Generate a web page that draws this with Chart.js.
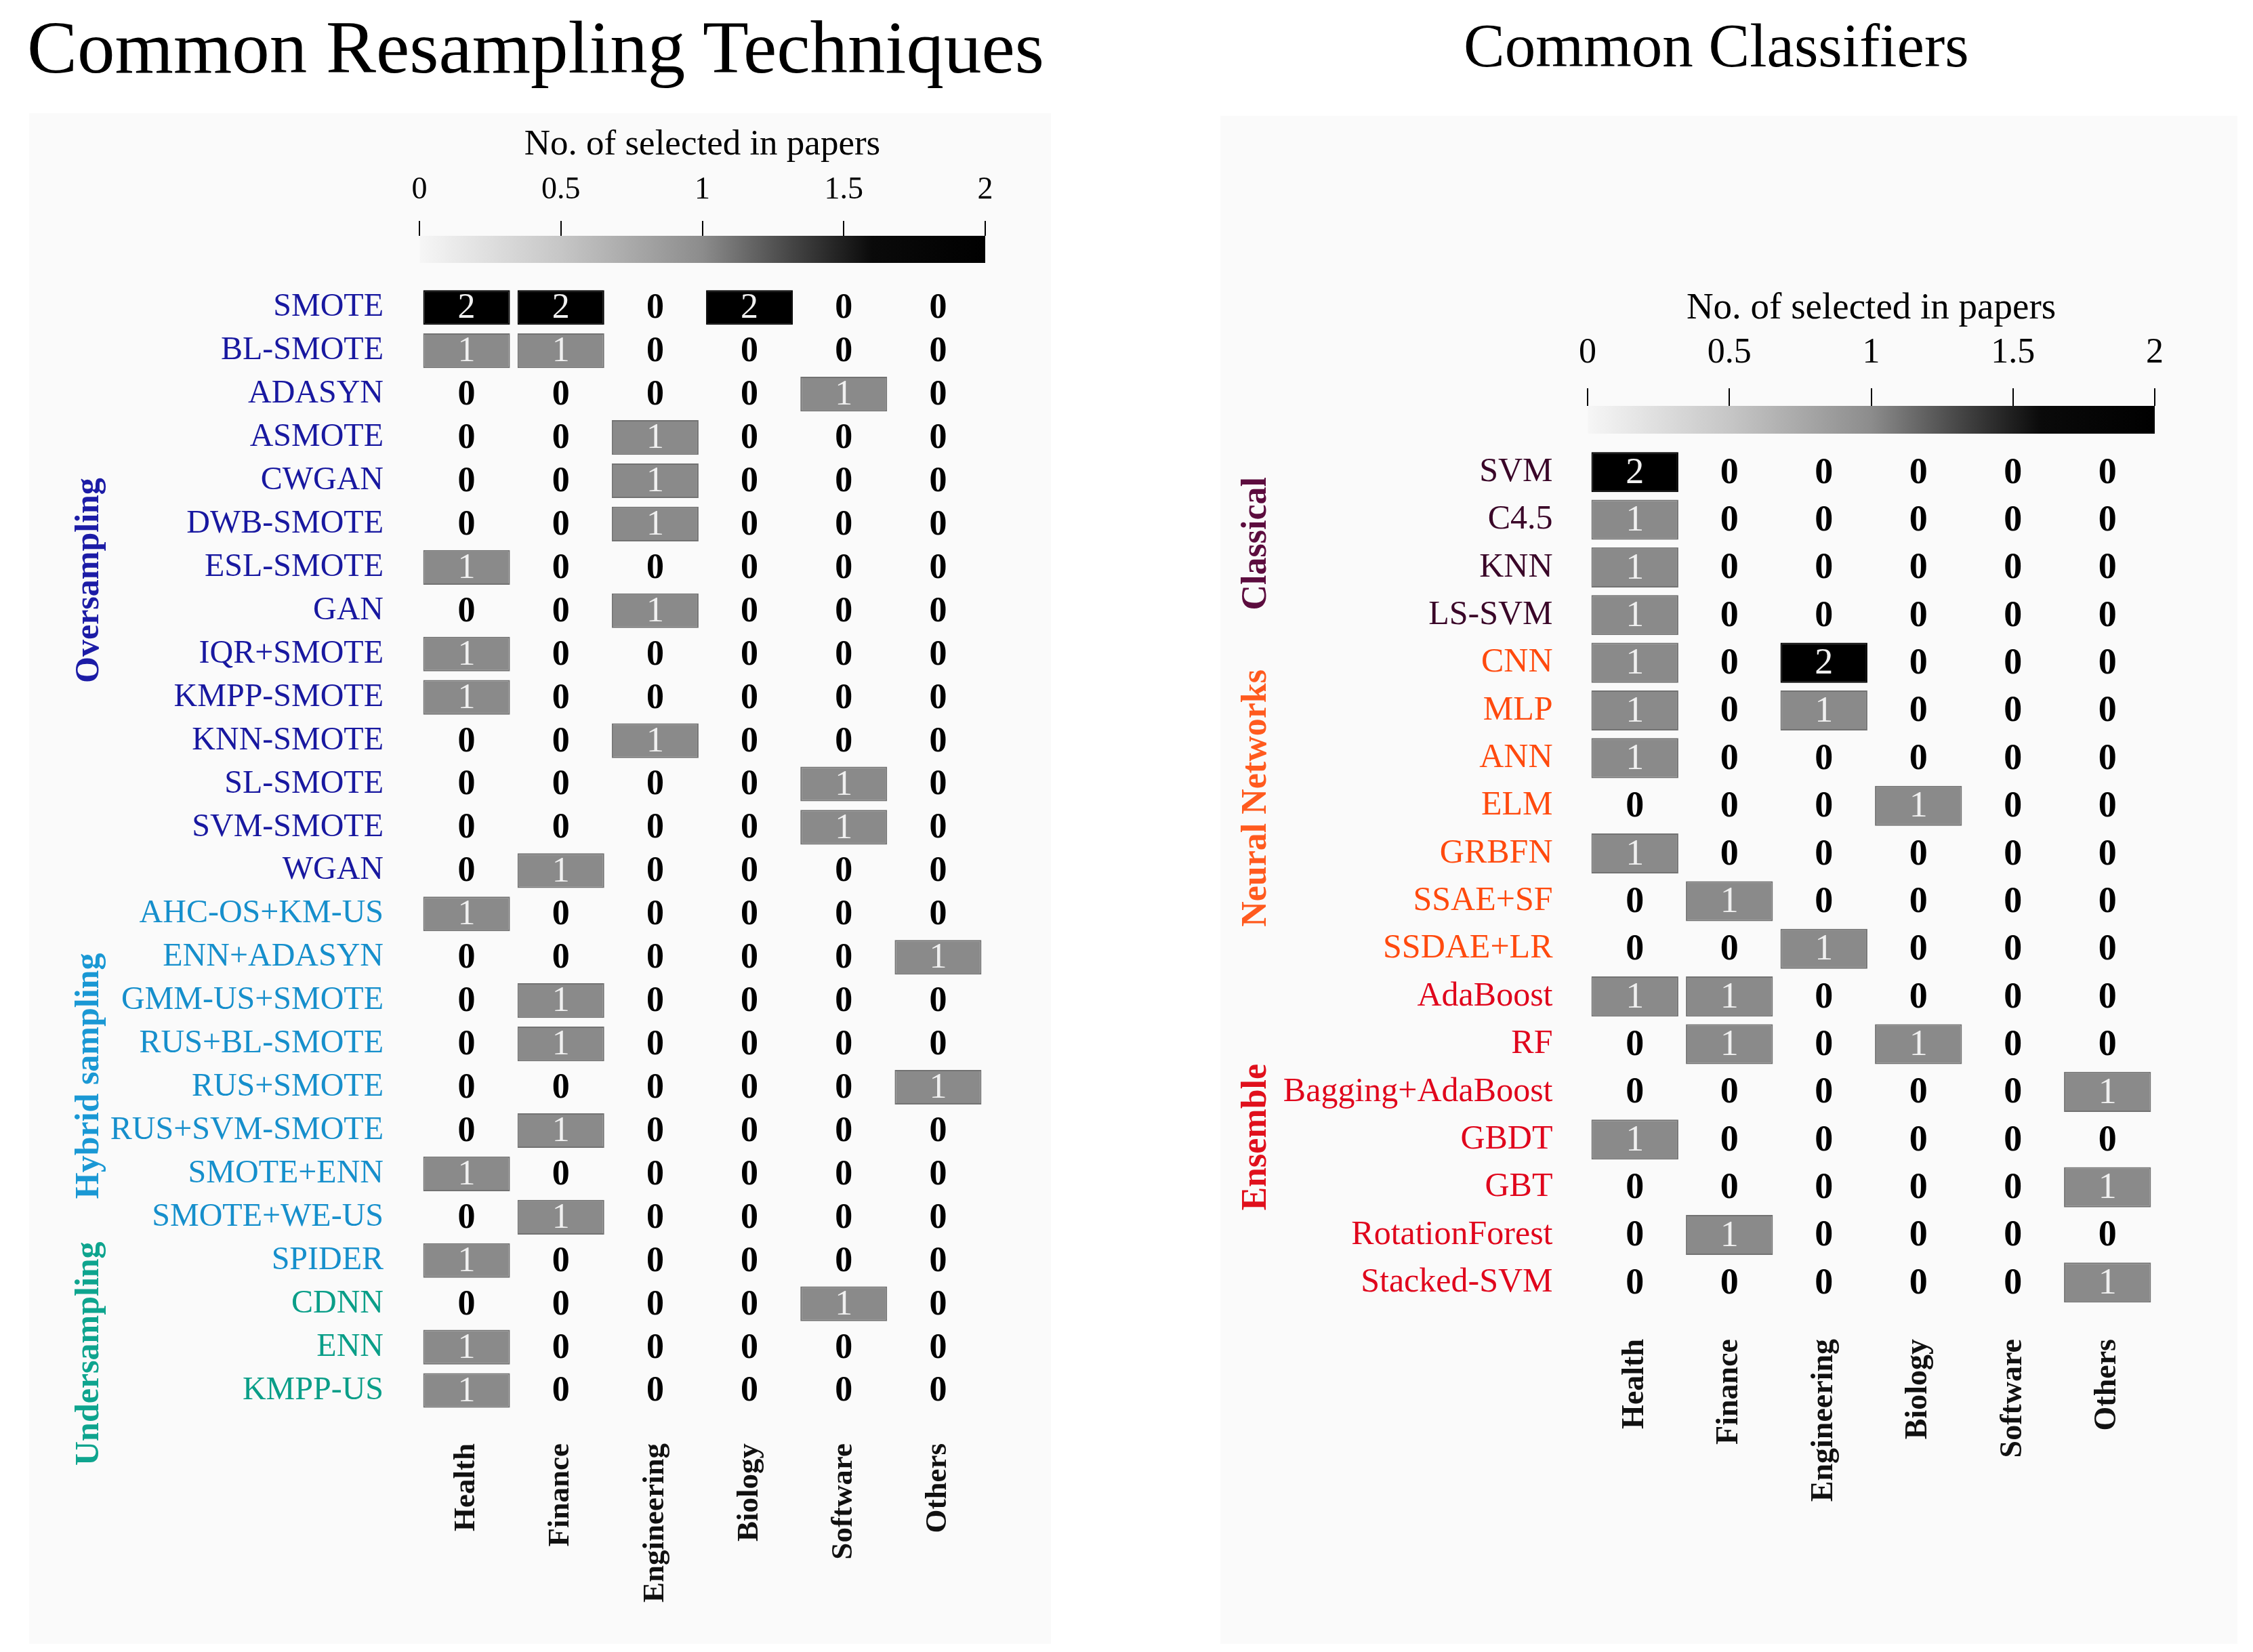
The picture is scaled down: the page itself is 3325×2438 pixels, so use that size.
<!DOCTYPE html>
<html><head><meta charset="utf-8">
<script src="https://cdn.jsdelivr.net/npm/chart.js@4.4.1/dist/chart.umd.min.js"></script>
<style>
html,body{margin:0;padding:0;background:#fff;}
body{width:3325px;height:2438px;position:relative;overflow:hidden;font-family:'Liberation Serif',serif;}
.panel{position:absolute;background:#fafafa;}
.title{position:absolute;font-family:'Liberation Serif',serif;color:#000;white-space:nowrap;line-height:1;}
canvas{position:absolute;}
</style></head><body>
<div class="panel" style="left:43px;top:167px;width:1508px;height:2259px"></div>
<div class="panel" style="left:1801px;top:171px;width:1501px;height:2255px"></div>
<div class="title" style="left:40px;top:14px;font-size:111px">Common Resampling Techniques</div>
<div class="title" style="left:2160px;top:22px;font-size:91px">Common Classifiers</div>
<canvas id="resBar" width="1511" height="218" style="left:43px;top:170px"></canvas>
<canvas id="resHeat" width="1511" height="2044" style="left:43px;top:340px"></canvas>
<canvas id="clfBar" width="1501" height="220" style="left:1801px;top:420px"></canvas>
<canvas id="clfHeat" width="1501" height="1648" style="left:1801px;top:580px"></canvas>
<script>
// ---------- data ----------
const domains = ['Health', 'Finance', 'Engineering', 'Biology', 'Software', 'Others'];
const cbTicks = [0, 0.5, 1, 1.5, 2];
const cbTitle = 'No. of selected in papers';

const resMethods = ['SMOTE','BL-SMOTE','ADASYN','ASMOTE','CWGAN','DWB-SMOTE','ESL-SMOTE','GAN','IQR+SMOTE','KMPP-SMOTE','KNN-SMOTE','SL-SMOTE','SVM-SMOTE','WGAN','AHC-OS+KM-US','ENN+ADASYN','GMM-US+SMOTE','RUS+BL-SMOTE','RUS+SMOTE','RUS+SVM-SMOTE','SMOTE+ENN','SMOTE+WE-US','SPIDER','CDNN','ENN','KMPP-US'];
const resHealth      = [2,1,0,0,0,0,1,0,1,1,0,0,0,0,1,0,0,0,0,0,1,0,1,0,1,1];
const resFinance     = [2,1,0,0,0,0,0,0,0,0,0,0,0,1,0,0,1,1,0,1,0,1,0,0,0,0];
const resEngineering = [0,0,0,1,1,1,0,1,0,0,1,0,0,0,0,0,0,0,0,0,0,0,0,0,0,0];
const resBiology     = [2,0,0,0,0,0,0,0,0,0,0,0,0,0,0,0,0,0,0,0,0,0,0,0,0,0];
const resSoftware    = [0,0,1,0,0,0,0,0,0,0,0,1,1,0,0,0,0,0,0,0,0,0,0,1,0,0];
const resOthers      = [0,0,0,0,0,0,0,0,0,0,0,0,0,0,0,1,0,0,1,0,0,0,0,0,0,0];
const resGroupNames  = ['Oversampling', 'Hybrid sampling', 'Undersampling'];
const resGroupLast   = [13, 22, 25];          // last row index of each label colour group
const resGroupCenter = [6.3, 17.74, 24.15];   // row position of the rotated group label
const resGroupColors = ['#1c1ca6', '#1a98d4', '#0ea48e'];
const resLabelColors = ['#1818a0', '#168fcc', '#0a9e88'];

const clfMethods = ['SVM','C4.5','KNN','LS-SVM','CNN','MLP','ANN','ELM','GRBFN','SSAE+SF','SSDAE+LR','AdaBoost','RF','Bagging+AdaBoost','GBDT','GBT','RotationForest','Stacked-SVM'];
const clfHealth      = [2,1,1,1,1,1,1,0,1,0,0,1,0,0,1,0,0,0];
const clfFinance     = [0,0,0,0,0,0,0,0,0,1,0,1,1,0,0,0,1,0];
const clfEngineering = [0,0,0,0,2,1,0,0,0,0,1,0,0,0,0,0,0,0];
const clfBiology     = [0,0,0,0,0,0,0,1,0,0,0,0,1,0,0,0,0,0];
const clfSoftware    = [0,0,0,0,0,0,0,0,0,0,0,0,0,0,0,0,0,0];
const clfOthers      = [0,0,0,0,0,0,0,0,0,0,0,0,0,1,0,1,0,1];
const clfGroupNames  = ['Classical', 'Neural Networks', 'Ensemble'];
const clfGroupLast   = [3, 10, 17];
const clfGroupCenter = [1.5, 6.84, 13.95];
const clfGroupColors = ['#5c0c3e', '#ff5a1e', '#e0101c'];
const clfLabelColors = ['#3a0628', '#ff4a0e', '#e0061c'];

// ---------- helpers ----------
const SERIF = "'Liberation Serif', 'Times New Roman', serif";
function fillFor(v) { return v >= 2 ? '#000000' : (v >= 1 ? '#8a8a8a' : 'rgba(0,0,0,0)'); }
function edgeFor(v) { return v >= 2 ? '#000000' : (v >= 1 ? '#727272' : 'rgba(0,0,0,0)'); }
function groupIndex(i, lasts) { for (let g = 0; g < lasts.length; g++) if (i <= lasts[g]) return g; return lasts.length - 1; }

const cellText = {
  id: 'cellText',
  afterDatasetsDraw(chart, args, opts) {
    const ctx = chart.ctx;
    chart.data.datasets.forEach((ds, i) => {
      chart.getDatasetMeta(i).data.forEach((el, j) => {
        const v = ds.values[j];
        const p = el.getCenterPoint();
        ctx.save();
        ctx.font = (v === 0 ? 'bold ' : '') + opts.size + 'px ' + SERIF;
        ctx.fillStyle = v === 0 ? '#000' : '#f0f0f0';
        ctx.textAlign = 'center';
        ctx.textBaseline = 'middle';
        ctx.fillText(String(v), p.x, p.y + 2);
        ctx.restore();
      });
    });
  }
};

const groupLabels = {
  id: 'groupLabels',
  afterDraw(chart, args, opts) {
    const ctx = chart.ctx, ys = chart.scales.y;
    const x = chart.chartArea.left - opts.dx;
    opts.names.forEach((name, g) => {
      const y = ys.getPixelForValue(opts.centers[g]);
      ctx.save();
      ctx.translate(x, y);
      ctx.rotate(-Math.PI / 2);
      ctx.font = 'bold ' + opts.size + 'px ' + SERIF;
      ctx.fillStyle = opts.colors[g];
      ctx.textAlign = 'center';
      ctx.textBaseline = 'middle';
      ctx.fillText(name, 0, 0);
      ctx.restore();
    });
  }
};

function colorbarChart(id, o) {
  return new Chart(document.getElementById(id), {
    type: 'bar',
    data: {
      labels: ['scale'],
      datasets: [{
        data: [[cbTicks[0], cbTicks[cbTicks.length - 1]]],
        backgroundColor: (c) => {
          const a = c.chart.chartArea;
          if (!a) return '#888';
          const g = c.chart.ctx.createLinearGradient(a.left, 0, a.right, 0);
          g.addColorStop(0, '#f6f6f6');
          g.addColorStop(0.25, '#c6c6c6');
          g.addColorStop(0.5, '#8c8c8c');
          g.addColorStop(0.66, '#444444');
          g.addColorStop(0.8, '#0a0a0a');
          g.addColorStop(1, '#000000');
          return g;
        },
        barPercentage: 1, categoryPercentage: 1, borderWidth: 0, borderSkipped: false
      }]
    },
    options: {
      indexAxis: 'y', responsive: false, animation: false, devicePixelRatio: 1,
      layout: { padding: { left: o.padL, right: o.padR, top: 0, bottom: 0 } },
      plugins: { legend: { display: false }, tooltip: { enabled: false } },
      scales: {
        y: { display: false },
        x: {
          position: 'top', min: cbTicks[0], max: cbTicks[cbTicks.length - 1],
          afterBuildTicks: s => { s.ticks = cbTicks.map(v => ({ value: v })); },
          afterFit: s => { s.height = o.axisH; },
          grid: { display: true, drawOnChartArea: false, drawTicks: true, tickLength: o.tl, color: '#000', lineWidth: 2 },
          border: { display: false },
          ticks: { padding: o.tickPad, font: { family: SERIF, size: o.tickSize }, color: '#000', maxRotation: 0, autoSkip: false, callback: v => String(v) },
          title: { display: true, text: cbTitle, font: { family: SERIF, size: o.titleSize }, color: '#000', padding: { top: o.titlePad, bottom: 0 } }
        }
      }
    }
  });
}

function heatChart(id, o) {
  const datasets = o.series.map((vals, c) => ({
    label: domains[c],
    values: vals,
    data: vals.map(() => [c - 0.46, c + 0.46]),
    backgroundColor: ctx => fillFor(vals[ctx.dataIndex]),
    borderColor: ctx => edgeFor(vals[ctx.dataIndex]),
    borderWidth: ctx => vals[ctx.dataIndex] > 0 ? 2 : 0,
    borderSkipped: false,
    grouped: false, barPercentage: o.barPct, categoryPercentage: 1
  }));
  return new Chart(document.getElementById(id), {
    type: 'bar',
    data: { labels: o.labels, datasets },
    options: {
      indexAxis: 'y', responsive: false, animation: false, devicePixelRatio: 1,
      layout: { padding: { left: 0, right: o.padR, top: 0, bottom: 0 } },
      plugins: {
        legend: { display: false }, tooltip: { enabled: false },
        cellText: { size: o.cellSize },
        groupLabels: { names: o.groupNames, centers: o.groupCenters, colors: o.groupColors, dx: o.groupDx, size: o.groupSize }
      },
      scales: {
        y: {
          type: 'category',
          afterFit: s => { s.width = o.yW; },
          grid: { display: false, drawTicks: false },
          border: { display: false },
          ticks: { autoSkip: false, padding: o.yPad, font: { family: SERIF, size: o.labelSize },
                   color: c => o.labelColors[groupIndex(c.index, o.groupLast)] }
        },
        x: {
          type: 'linear', position: 'bottom', min: -0.5, max: domains.length - 0.5,
          afterBuildTicks: s => { s.ticks = domains.map((d, i) => ({ value: i })); },
          afterFit: s => { s.height = 300; },
          grid: { display: false, drawTicks: false },
          border: { display: false },
          ticks: { autoSkip: false, minRotation: 90, maxRotation: 90, padding: o.xPad,
                   font: { family: SERIF, size: o.xSize, weight: 'bold' }, color: '#111',
                   callback: v => domains[Math.round(v)] }
        }
      }
    },
    plugins: [cellText, groupLabels]
  });
}

// ---------- charts ----------
colorbarChart('resBar', { padL: 576, padR: 100, axisH: 178, tl: 22, tickPad: 17, tickSize: 46, titleSize: 53, titlePad: 12 });
colorbarChart('clfBar', { padL: 542, padR: 122, axisH: 179, tl: 26, tickPad: 20, tickSize: 52, titleSize: 55, titlePad: 3 });

heatChart('resHeat', {
  labels: resMethods,
  series: [resHealth, resFinance, resEngineering, resBiology, resSoftware, resOthers],
  yW: 576, padR: 100, yPad: 53, labelSize: 48, xSize: 45, xPad: 46, barPct: 0.8, cellSize: 52,
  labelColors: resLabelColors, groupLast: resGroupLast,
  groupNames: resGroupNames, groupCenters: resGroupCenter, groupColors: resGroupColors, groupDx: 487, groupSize: 50
});
heatChart('clfHeat', {
  labels: clfMethods,
  series: [clfHealth, clfFinance, clfEngineering, clfBiology, clfSoftware, clfOthers],
  yW: 542, padR: 122, yPad: 51.5, labelSize: 50, xSize: 46, xPad: 48, barPct: 0.84, cellSize: 54,
  labelColors: clfLabelColors, groupLast: clfGroupLast,
  groupNames: clfGroupNames, groupCenters: clfGroupCenter, groupColors: clfGroupColors, groupDx: 488, groupSize: 52
});
</script>
</body></html>
